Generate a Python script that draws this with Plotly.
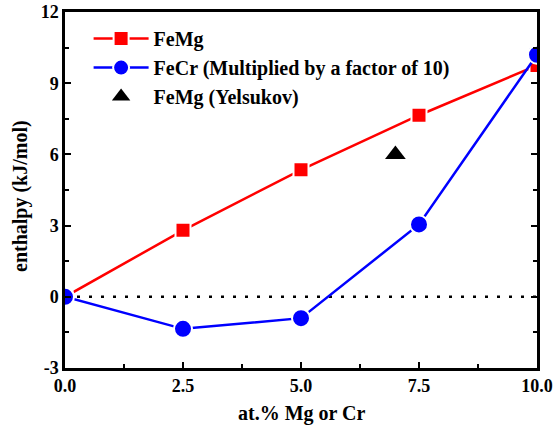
import plotly.graph_objects as go

x_vals = [0, 2.5, 5, 7.5, 10]
femg = [0.0, 2.8, 5.35, 7.65, 9.75]
fecr = [0.0, -1.35, -0.9, 3.05, 10.2]
yel_x = [7]
yel_y = [6.0]
xticks = [0, 2.5, 5, 7.5, 10]
xticklabels = ["0.0", "2.5", "5.0", "7.5", "10.0"]
yticks = [-3, 0, 3, 6, 9, 12]
x_title = "at.% Mg or Cr"
y_title = "enthalpy (kJ/mol)"

font = "'Times New Roman', 'Liberation Serif', serif"

fig = go.Figure()
fig.add_trace(go.Scatter(
    x=x_vals, y=femg, mode="lines+markers", name="<b>FeMg</b>",
    line=dict(color="#ff0000", width=2.5),
    marker=dict(symbol="square", size=15, color="#ff0000", line=dict(color="white", width=2)),
))
fig.add_trace(go.Scatter(
    x=x_vals, y=fecr, mode="lines+markers", name="<b>FeCr (Multiplied by a factor of 10)</b>",
    line=dict(color="#0000ff", width=2.5),
    marker=dict(symbol="circle", size=18, color="#0000ff", line=dict(color="white", width=2)),
))
fig.add_trace(go.Scatter(
    x=yel_x, y=yel_y, mode="markers", name="<b>FeMg (Yelsukov)</b>",
    marker=dict(symbol="triangle-up", size=18, color="black"),
))
fig.add_shape(type="line", xref="x", yref="y", x0=0, x1=10, y0=0, y1=0,
              line=dict(color="black", width=2.5, dash="3px,9px"), layer="below")

fig.add_annotation(text="<b>%s</b>" % x_title, xref="paper", yref="paper", x=0.5, y=0,
                   xanchor="center", yanchor="middle", yshift=-45, showarrow=False,
                   font=dict(family=font, size=20, color="black"))
fig.add_annotation(text="<b>%s</b>" % y_title, xref="paper", yref="paper", x=0, y=0.5,
                   xanchor="center", yanchor="middle", xshift=-45, yshift=-6, textangle=-90,
                   showarrow=False, font=dict(family=font, size=20, color="black"))

fig.update_layout(
    width=554, height=431,
    margin=dict(l=65, r=17, t=12, b=63),
    paper_bgcolor="white", plot_bgcolor="white",
    font=dict(family=font, size=18, color="black"),
    showlegend=True,
    legend=dict(x=0.05, y=0.98, xanchor="left", yanchor="top",
                bgcolor="rgba(0,0,0,0)", font=dict(family=font, size=20, color="black"),
                tracegroupgap=0, itemwidth=55),
)
fig.update_xaxes(
    range=[0, 10], tickvals=xticks, ticktext=["<b>%s</b>" % t for t in xticklabels],
    ticks="inside", ticklen=6, tickwidth=2, tickcolor="black",
    minor=dict(dtick=1.25, tick0=0, ticks="inside", ticklen=4, tickwidth=2, tickcolor="black"),
    showline=True, linewidth=2.5, linecolor="black", mirror=True,
    showgrid=False, zeroline=False, automargin=False,
    tickfont=dict(family=font, size=18),
)
fig.update_yaxes(
    range=[-3, 12], tickvals=yticks, ticktext=["<b>%d</b>" % t for t in yticks],
    ticks="inside", ticklen=6, tickwidth=2, tickcolor="black",
    minor=dict(dtick=1.5, tick0=0, ticks="inside", ticklen=4, tickwidth=2, tickcolor="black"),
    showline=True, linewidth=2.5, linecolor="black", mirror="ticks",
    showgrid=False, zeroline=False, automargin=False,
    tickfont=dict(family=font, size=18),
)

fig.write_html("out.html", config={"displayModeBar": False},
               post_script="document.body.style.margin='0';document.body.style.overflow='hidden';")
